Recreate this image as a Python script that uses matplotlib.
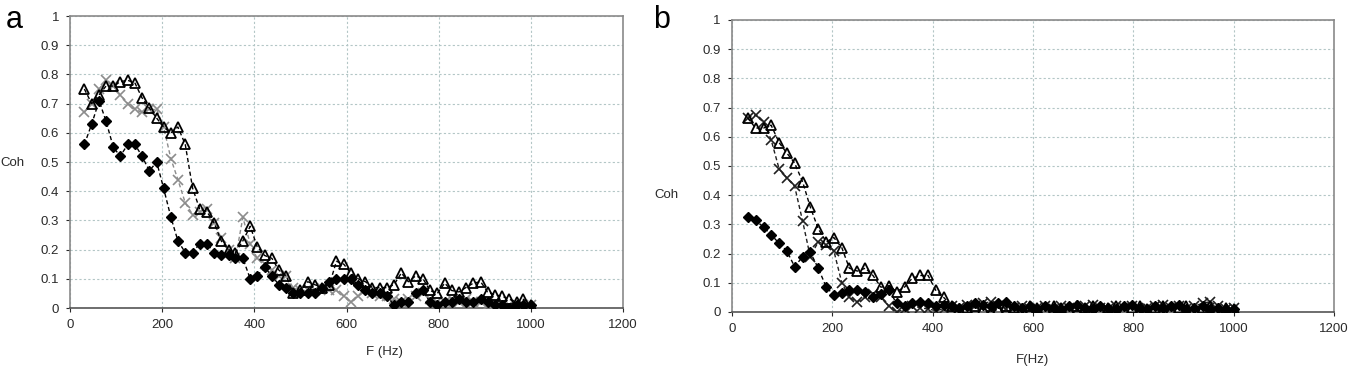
import matplotlib
matplotlib.use('Agg')
import matplotlib.pyplot as plt

plt.rcParams['font.family'] = ['Liberation Sans', 'DejaVu Sans']

# frequency bins (Hz)
freq = [31, 47, 63, 78, 94, 109, 125, 141, 156, 172, 188, 203, 219, 234, 250,
        266, 281, 297, 313, 328, 344, 359, 375, 391, 406, 422, 438, 453, 469,
        484, 500, 516, 531, 547, 563, 578, 594, 609, 625, 641, 656, 672, 688,
        703, 719, 734, 750, 766, 781, 797, 813, 828, 844, 859, 875, 891, 906,
        922, 938, 953, 969, 984, 1000]

# panel a
a_diamond = [0.56, 0.63, 0.71, 0.64, 0.55, 0.52, 0.56, 0.56, 0.52, 0.47, 0.50,
             0.41, 0.31, 0.23, 0.19, 0.19, 0.22, 0.22, 0.19, 0.18, 0.18, 0.17,
             0.17, 0.10, 0.11, 0.14, 0.11, 0.08, 0.07, 0.05, 0.05, 0.05, 0.05,
             0.07, 0.09, 0.10, 0.10, 0.10, 0.08, 0.06, 0.05, 0.05, 0.04, 0.01,
             0.02, 0.02, 0.05, 0.06, 0.02, 0.01, 0.02, 0.02, 0.03, 0.02, 0.02,
             0.03, 0.02, 0.01, 0.01, 0.00, 0.01, 0.01, 0.01]
a_cross = [0.67, 0.70, 0.75, 0.78, 0.76, 0.73, 0.70, 0.68, 0.67, 0.68, 0.68,
           0.62, 0.51, 0.44, 0.36, 0.32, 0.33, 0.34, 0.29, 0.24, 0.20, 0.17,
           0.31, 0.22, 0.17, 0.15, 0.13, 0.11, 0.11, 0.07, 0.06, 0.06, 0.06,
           0.07, 0.06, 0.06, 0.04, 0.02, 0.04, 0.06, 0.05, 0.04, 0.04, 0.03,
           0.02, 0.03, 0.04, 0.05, 0.03, 0.02, 0.02, 0.03, 0.02, 0.03, 0.02,
           0.02, 0.01, 0.02, 0.01, 0.01, 0.00, 0.01, 0.01]
a_triangle = [0.75, 0.70, 0.73, 0.76, 0.76, 0.775, 0.78, 0.77, 0.72, 0.685,
              0.65, 0.62, 0.60, 0.62, 0.56, 0.41, 0.34, 0.33, 0.29, 0.23, 0.20,
              0.19, 0.23, 0.28, 0.21, 0.18, 0.17, 0.13, 0.11, 0.05, 0.06, 0.09,
              0.08, 0.07, 0.08, 0.16, 0.15, 0.12, 0.10, 0.09, 0.07, 0.07, 0.07,
              0.08, 0.12, 0.09, 0.11, 0.10, 0.06, 0.05, 0.085, 0.06, 0.055,
              0.07, 0.085, 0.09, 0.055, 0.045, 0.04, 0.03, 0.02, 0.03, 0.01]

# panel b
b_diamond = [0.325, 0.315, 0.29, 0.265, 0.235, 0.21, 0.155, 0.19, 0.205, 0.15,
             0.085, 0.058, 0.065, 0.075, 0.075, 0.07, 0.05, 0.06, 0.075, 0.03,
             0.02, 0.03, 0.035, 0.03, 0.02, 0.025, 0.02, 0.015, 0.02, 0.03,
             0.025, 0.02, 0.03, 0.035, 0.02, 0.015, 0.02, 0.01, 0.02, 0.015,
             0.01, 0.02, 0.025, 0.015, 0.01, 0.02, 0.015, 0.01, 0.02, 0.025,
             0.015, 0.01, 0.02, 0.015, 0.02, 0.025, 0.01, 0.015, 0.02, 0.01,
             0.015, 0.01, 0.01]
b_cross = [0.665, 0.675, 0.65, 0.59, 0.49, 0.46, 0.43, 0.31, 0.19, 0.24, 0.23,
           0.21, 0.10, 0.05, 0.035, 0.05, 0.06, 0.05, 0.02, 0.00, 0.01, 0.02,
           0.015, 0.01, 0.005, 0.01, 0.02, 0.015, 0.025, 0.02, 0.03, 0.035,
           0.02, 0.01, 0.015, 0.02, 0.01, 0.015, 0.02, 0.01, 0.02, 0.015, 0.01,
           0.02, 0.025, 0.015, 0.01, 0.02, 0.015, 0.02, 0.01, 0.015, 0.02,
           0.025, 0.015, 0.02, 0.01, 0.02, 0.03, 0.035, 0.02, 0.01, 0.015]
b_triangle = [0.665, 0.63, 0.63, 0.64, 0.58, 0.545, 0.51, 0.445, 0.36, 0.285,
              0.24, 0.255, 0.22, 0.15, 0.14, 0.15, 0.125, 0.085, 0.09, 0.07,
              0.085, 0.115, 0.125, 0.125, 0.075, 0.05, 0.02, 0.01, 0.015, 0.02,
              0.01, 0.0, 0.01, 0.02, 0.015, 0.01, 0.02, 0.015, 0.01, 0.02,
              0.015, 0.01, 0.02, 0.015, 0.02, 0.01, 0.015, 0.02, 0.01, 0.015,
              0.02, 0.01, 0.015, 0.02, 0.01, 0.015, 0.02, 0.01, 0.015, 0.02,
              0.01, 0.015, 0.01]

xticks = [0, 200, 400, 600, 800, 1000, 1200]
yticks = [0, 0.1, 0.2, 0.3, 0.4, 0.5, 0.6, 0.7, 0.8, 0.9, 1]
ytick_labels = ['0', '0.1', '0.2', '0.3', '0.4', '0.5', '0.6', '0.7', '0.8', '0.9', '1']

fig = plt.figure(figsize=(13.5, 3.69), dpi=100)
ax_a = fig.add_axes([0.0519, 0.1653, 0.4096, 0.7913])
ax_b = fig.add_axes([0.5422, 0.1545, 0.4459, 0.7913])

dash = (0, (3, 2))


def style(ax):
    ax.set_xlim(0, 1200)
    ax.set_ylim(0, 1)
    ax.set_xticks(xticks)
    ax.set_yticks(yticks)
    ax.set_yticklabels(ytick_labels)
    ax.grid(True, color='#b3c6c6', linestyle=(0, (2, 2)), linewidth=0.8)
    ax.set_axisbelow(True)
    for s in ax.spines.values():
        s.set_color('#8a8a8a')
        s.set_linewidth(1.2)
    ax.spines['bottom'].set_color('#555555')
    ax.tick_params(labelsize=9.5, colors='#2a2a2a', length=3, width=0.8,
                   direction='out', pad=5)


for ax, d, c, t, ccol in [(ax_a, a_diamond, a_cross, a_triangle, '#8c8c8c'),
                          (ax_b, b_diamond, b_cross, b_triangle, '#202020')]:
    style(ax)
    ax.plot(freq, c, linestyle=dash, color=ccol, linewidth=1.0, marker='x',
            markersize=7, markeredgewidth=1.2, zorder=3)
    ax.plot(freq, t, linestyle=dash, color='black', linewidth=1.0, marker='^',
            markersize=7.5, markerfacecolor='none', markeredgecolor='black',
            markeredgewidth=1.3, zorder=4)
    ax.plot(freq, d, linestyle=dash, color='black', linewidth=1.0, marker='D',
            markersize=5.5, markerfacecolor='black', markeredgecolor='black',
            zorder=5)

fig.text(0.004, 0.945, 'a', fontsize=22, va='center', ha='left')
fig.text(0.484, 0.945, 'b', fontsize=22, va='center', ha='left')
fig.text(0.0, 0.558, 'Coh', fontsize=9.5, color='#2a2a2a', va='center', ha='left')
fig.text(0.485, 0.472, 'Coh', fontsize=9.5, color='#2a2a2a', va='center', ha='left')
fig.text(0.285, 0.045, 'F (Hz)', fontsize=9.5, color='#2a2a2a', va='center', ha='center')
fig.text(0.765, 0.025, 'F(Hz)', fontsize=9.5, color='#2a2a2a', va='center', ha='center')

fig.savefig('out.png', dpi=100, facecolor='white')
